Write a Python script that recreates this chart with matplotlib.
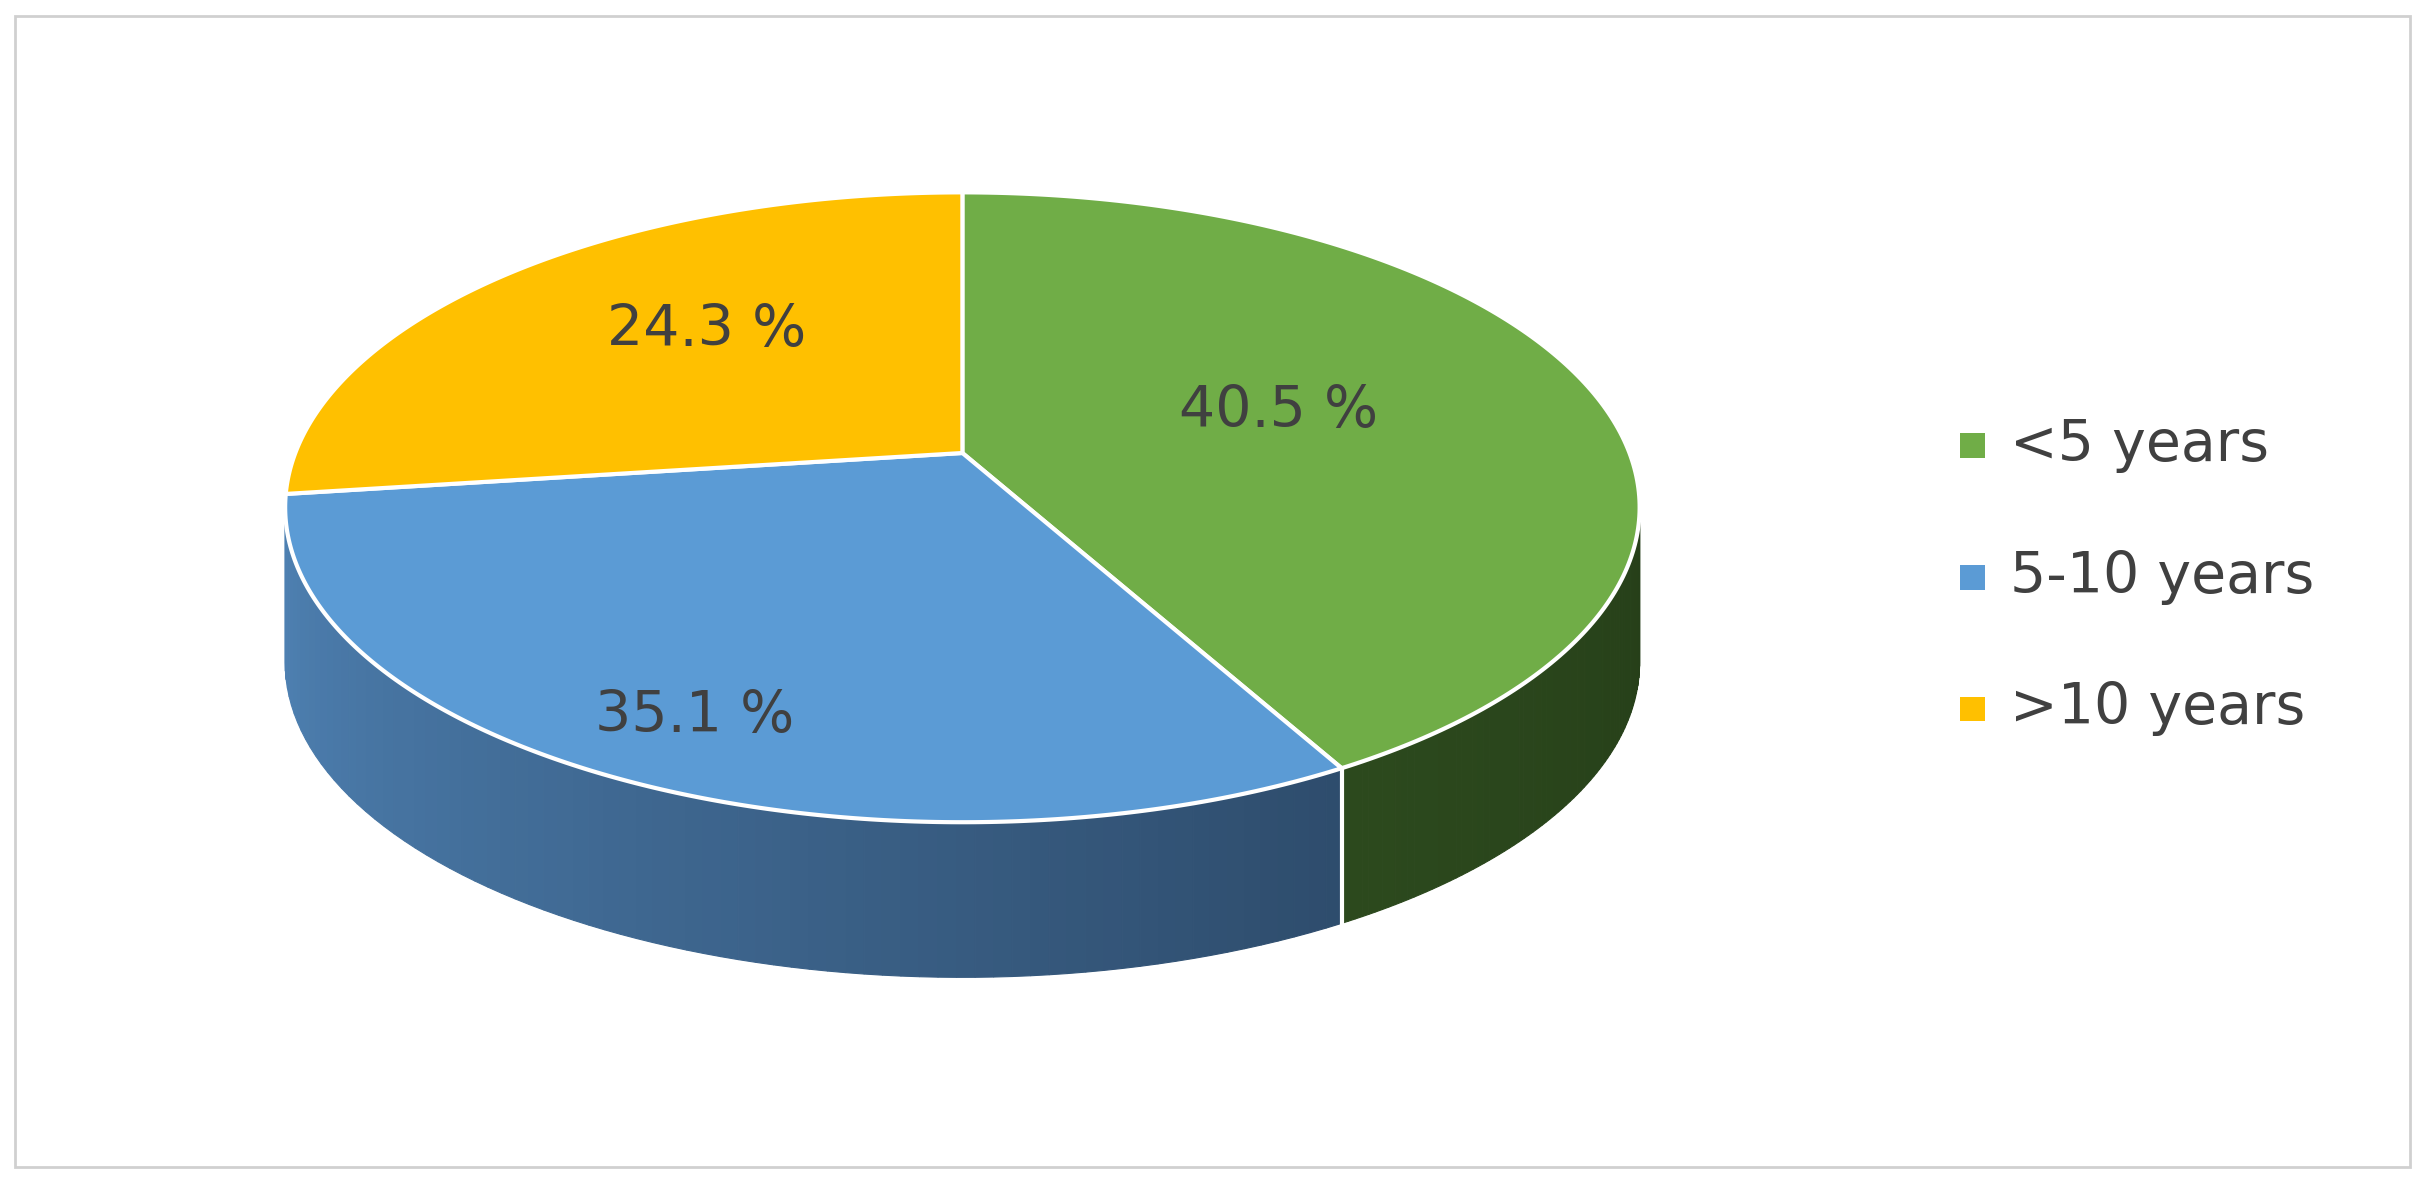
import numpy as np
import matplotlib.pyplot as plt
from matplotlib.patches import Polygon, Rectangle
from matplotlib.colors import to_rgb

labels = ['<5 years', '5-10 years', '>10 years']
values = [40.5, 35.1, 24.3]
pct_text = ['40.5 %', '35.1 %', '24.3 %']
top_colors = ['#70AD47', '#5B9BD5', '#FFC000']
side_light = ['#3a6127', '#4f82b4', '#b08600']
side_dark = ['#263f19', '#1f344c', '#6e5400']

# geometry in a 1568 x 769 frame
cx, cy, rx, ry, depth = 621, 327, 437, 203, 100
apex = (621, 292)

fig = plt.figure(figsize=(24.3, 11.93), dpi=100)
ax = fig.add_axes([0, 0, 1, 1])
ax.set_xlim(0, 1568)
ax.set_ylim(769, 0)
ax.axis('off')
ax.add_patch(Rectangle((10, 10), 1545, 742, fill=False, ec='#d0d0d0', lw=2))


def pt(t, dy=0):
    r = np.radians(t)
    return cx + rx * np.cos(r), cy - ry * np.sin(r) + dy


# slice angles, clockwise from 12 o'clock
total = sum(values)
starts, ends = [], []
a = 90.0
for v in values:
    starts.append(a)
    a -= v / total * 360
    ends.append(a)

# side walls (front half only: angles in [-180, 0])
for i in range(len(values)):
    hi, lo = starts[i], ends[i]
    for off in (0, -360):
        h, l = min(hi + off, 0), max(lo + off, -180)
        if h <= l:
            continue
        edges = np.linspace(l, h, 80)
        c1, c2 = np.array(to_rgb(side_light[i])), np.array(to_rgb(side_dark[i]))
        for k in range(len(edges) - 1):
            t0, t1 = edges[k], edges[k + 1]
            f = (-(t0 + t1) / 2) / 180.0  # 1 at left, 0 at right
            col = c2 + (c1 - c2) * f
            poly = [pt(t0), pt(t1), pt(t1, depth), pt(t0, depth)]
            ax.add_patch(Polygon(poly, closed=True, fc=col, ec=col, lw=0.8))
        if -180 < l:
            ax.plot(*zip(pt(l), pt(l, depth)), color='white', lw=3)

# top faces
for i in range(len(values)):
    ts = np.linspace(starts[i], ends[i], 200)
    pts = [apex] + [pt(t) for t in ts]
    ax.add_patch(Polygon(pts, closed=True, fc=top_colors[i], ec='white', lw=3, joinstyle='round'))

label_pos = [(825, 265), (448, 462), (456, 213)]
for (x, y), s in zip(label_pos, pct_text):
    ax.text(x, y, s, fontsize=41, color='#404040', ha='center', va='center')

for i, lab in enumerate(labels):
    y = 287 + i * 85
    ax.add_patch(Rectangle((1265, y - 8), 16, 16, fc=top_colors[i], ec='none'))
    ax.text(1297, y, lab, fontsize=41, color='#404040', va='center')

fig.savefig('out.png', dpi=100)
